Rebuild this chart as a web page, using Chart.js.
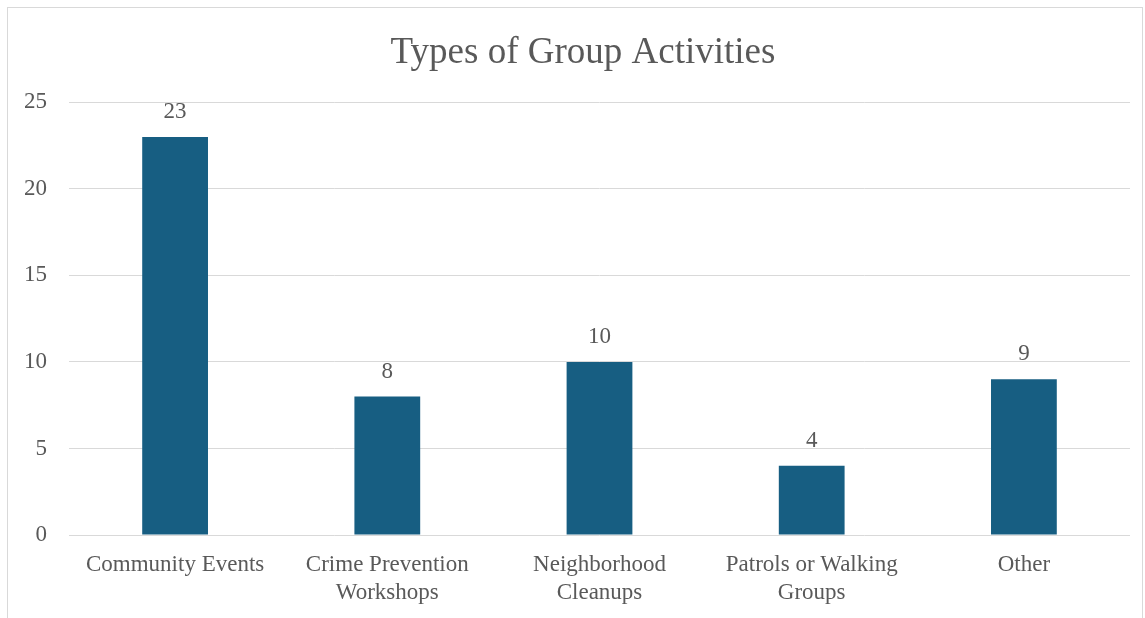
<!DOCTYPE html>
<html>
<head>
<meta charset="utf-8">
<script src="https://cdn.jsdelivr.net/npm/chart.js@4/dist/chart.umd.min.js"></script>
<style>
    html, body { margin: 0; padding: 0; background: #fff; overflow: hidden; }
    #wrap { position: relative; width: 1145px; height: 618px; }
    #frame { position: absolute; left: 7px; top: 7px; width: 1136px; height: 640px; border: 1px solid #d9d9d9; box-sizing: border-box; }
    canvas { position: absolute; left: 0; top: 0; }
</style>
</head>
<body>
<div id="wrap">
    <div id="frame"></div>
    <canvas id="chart" width="1145" height="618"></canvas>
</div>
<script>
const categories = [
    'Community Events',
    ['Crime Prevention', 'Workshops'],
    ['Neighborhood', 'Cleanups'],
    ['Patrols or Walking', 'Groups'],
    'Other'
];
const counts = [23, 8, 10, 4, 9];
const yTicks = [0, 5, 10, 15, 20, 25];
const chartTitle = 'Types of Group Activities';

const textColor = '#595959';
const fontFamily = '"Liberation Serif", "Times New Roman", serif';

// value labels above each bar, plus the title (slightly right of centre, like the original)
const barLabels = {
    id: 'barLabels',
    afterDatasetsDraw(chart) {
        const ctx = chart.ctx;
        const meta = chart.getDatasetMeta(0);
        ctx.save();
        ctx.fillStyle = textColor;
        ctx.font = '23px ' + fontFamily;
        ctx.textAlign = 'center';
        ctx.textBaseline = 'middle';
        meta.data.forEach((bar, i) => {
            ctx.fillText(String(counts[i]), bar.x, bar.y - 25);
        });
        ctx.font = '37px ' + fontFamily;
        const t = chart.titleBlock;
        ctx.fillText(chartTitle, 583, t.top + t.options.padding.top + t.height / 2 - (t.options.padding.top + t.options.padding.bottom) / 2);
        ctx.restore();
    }
};

new Chart(document.getElementById('chart'), {
    type: 'bar',
    data: {
        labels: categories,
        datasets: [{
            data: counts,
            backgroundColor: '#175E82',
            categoryPercentage: 1,
            barPercentage: 0.31
        }]
    },
    options: {
        responsive: false,
        animation: false,
        layout: { padding: { left: 0, right: 15, top: 0, bottom: 0 } },
        plugins: {
            legend: { display: false },
            tooltip: { enabled: false },
            title: {
                display: true,
                text: chartTitle,
                color: 'rgba(0,0,0,0)',
                font: { family: fontFamily, size: 37, weight: 'normal' },
                padding: { top: 31, bottom: 27 }
            }
        },
        scales: {
            x: {
                grid: { display: false },
                border: { display: false },
                afterFit(axis) { axis.height = 83; },
                ticks: {
                    color: textColor,
                    font: { family: fontFamily, size: 23, lineHeight: 1.22 },
                    maxRotation: 0,
                    autoSkip: false,
                    padding: 8
                }
            },
            y: {
                min: 0,
                max: 25,
                afterBuildTicks(axis) {
                    axis.ticks = yTicks.map(v => ({ value: v }));
                },
                afterFit(axis) { axis.width = 69; },
                grid: { color: '#d9d9d9', lineWidth: 1, drawTicks: false },
                border: { display: false },
                ticks: {
                    color: textColor,
                    font: { family: fontFamily, size: 23 },
                    padding: 22
                }
            }
        }
    },
    plugins: [barLabels]
});
</script>
</body>
</html>
